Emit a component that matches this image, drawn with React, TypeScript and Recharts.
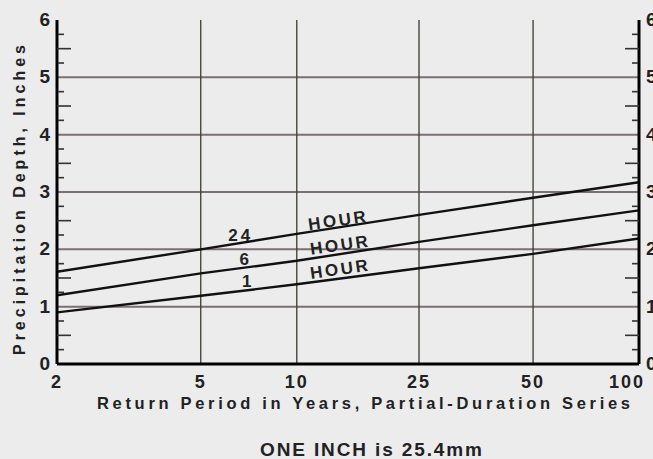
import React from 'react';
import { LineChart, Line, XAxis, YAxis, ReferenceLine, ReferenceDot, Customized } from 'recharts';

// Return periods (years) and depths (inches)
const returnPeriods = [2, 5, 10, 25, 50, 100];
const depth24Hour = [1.61, 2.0, 2.27, 2.6, 2.9, 3.17];
const depth6Hour = [1.2, 1.58, 1.8, 2.13, 2.42, 2.68];
const depth1Hour = [0.9, 1.19, 1.39, 1.67, 1.92, 2.19];

const xTicks = [2, 5, 10, 25, 50, 100];
const xGridValues = [5, 10, 25, 50];
const yTicks = [0, 1, 2, 3, 4, 5, 6];
const yGridValues = [1, 2, 3, 4, 5];
const halfTicks = [0.5, 1.5, 2.5, 3.5, 4.5, 5.5];
const quarterTicks = [0.25, 0.75, 1.25, 1.75, 2.25, 2.75, 3.25, 3.75, 4.25, 4.75, 5.25, 5.75];

// Curve annotations (anchored in data units)
const durationNames = ['24', '6', '1'];
const durationNameT = [6.67, 6.92, 7.05];
const durationNameDepth = [2.25, 1.83, 1.45];
const hourWordT = [13.5, 13.7, 13.7];
const hourWordDepth = [2.51, 2.08, 1.66];

// Probability-paper rulings of the return-period axis (hand-ruled, roughly logarithmic)
const paperRulingT = [2, 5, 10, 25, 50, 100];
const paperRulingFraction = [0, 0.247, 0.412, 0.622, 0.818, 1];

function paperFraction(v: number): number {
  const L = paperRulingT.map((t) => Math.log10(t));
  const F = paperRulingFraction;
  const lv = Math.log10(Math.max(v, 1e-9));
  let i = 1;
  while (i < L.length - 1 && lv > L[i]) i++;
  const k = (lv - L[i - 1]) / (L[i] - L[i - 1]);
  return F[i - 1] + k * (F[i] - F[i - 1]);
}

function createPaperScale(): any {
  let dom: number[] = [2, 100];
  let rng: number[] = [0, 1];
  const scale: any = (v: number) => {
    const f0 = paperFraction(Number(dom[0]));
    const f1 = paperFraction(Number(dom[dom.length - 1]));
    const f = (paperFraction(Number(v)) - f0) / (f1 - f0);
    return rng[0] + f * (rng[rng.length - 1] - rng[0]);
  };
  scale.domain = (d?: number[]) => {
    if (d === undefined) return dom.slice();
    dom = d.slice();
    return scale;
  };
  scale.range = (r?: number[]) => {
    if (r === undefined) return rng.slice();
    rng = r.slice();
    return scale;
  };
  scale.copy = () => createPaperScale().domain(dom).range(rng);
  scale.ticks = () => paperRulingT.slice();
  scale.tickFormat = () => (v: any) => String(v);
  return scale;
}

const data = returnPeriods.map((t, i) => ({
  t,
  h24: depth24Hour[i],
  h6: depth6Hour[i],
  h1: depth1Hour[i],
}));

const FONT = '"Liberation Sans", Arial, sans-serif';
const INK = '#222';

const XTick = (props: any) => {
  const { x, y, payload } = props;
  const dx = payload.value === 100 ? -12 : 0;
  return (
    <text x={x + dx} y={y + 15.5} textAnchor="middle" fontFamily={FONT} fontWeight="bold" fontSize={18} letterSpacing={2} fill={INK}>
      {payload.value}
    </text>
  );
};

const LeftTick = (props: any) => {
  const { x, y, payload } = props;
  return (
    <text x={x + 1} y={y + 6} textAnchor="end" fontFamily={FONT} fontWeight="bold" fontSize={19} fill={INK}>
      {payload.value}
    </text>
  );
};

const RightTick = (props: any) => {
  const { x, y, payload } = props;
  return (
    <text x={x - 1} y={y + 6} textAnchor="start" fontFamily={FONT} fontWeight="bold" fontSize={19} fill={INK}>
      {payload.value}
    </text>
  );
};

const NoLabel = () => <g />;

const makeWord = (word: string, rot: number, len?: number) => (props: any) => {
  const { cx, cy } = props;
  return (
    <text
      x={cx}
      y={cy}
      dy="0.36em"
      textAnchor="middle"
      fontFamily={FONT}
      fontWeight="bold"
      fontSize={17}
      letterSpacing={len ? 0 : 3}
      textLength={len}
      lengthAdjust={len ? 'spacing' : undefined}
      fill={INK}
      transform={`rotate(${rot}, ${cx}, ${cy})`}
    >
      {word}
    </text>
  );
};

const Titles = () => (
  <g>
    <text x={97} y={409} fontFamily={FONT} fontWeight="bold" fontSize={16.5} textLength={533} lengthAdjust="spacing" fill={INK}>
      Return Period in Years, Partial-Duration Series
    </text>
    <text x={260} y={456} fontFamily={FONT} fontWeight="bold" fontSize={19} textLength={222} lengthAdjust="spacing" fill={INK}>
      ONE INCH is 25.4mm
    </text>
    <text
      x={25}
      y={355}
      fontFamily={FONT}
      fontWeight="bold"
      fontSize={16}
      textLength={310}
      lengthAdjust="spacing"
      fill={INK}
      transform="rotate(-90, 25, 355)"
    >
      Precipitation Depth, Inches
    </text>
  </g>
);

const paperScale = createPaperScale();
const minorTickLine = { stroke: '#333', strokeWidth: 1.6 };

export default function App() {
  return (
    <div style={{ position: 'absolute', left: 0, top: 0, width: 653, height: 459, background: '#ececec' }}>
      <LineChart width={653} height={459} data={data} margin={{ top: 20, right: 0, bottom: 65, left: 0 }}>
        <XAxis
          dataKey="t"
          type="number"
          scale={paperScale}
          domain={[2, 100]}
          ticks={xTicks}
          interval={0}
          allowDataOverflow
          tickLine={false}
          axisLine={{ stroke: '#000', strokeWidth: 3 }}
          tick={<XTick />}
          height={30}
        />
        <XAxis
          xAxisId="top"
          orientation="top"
          type="number"
          scale={paperScale}
          domain={[2, 100]}
          ticks={xTicks}
          allowDataOverflow
          tick={false}
          tickLine={false}
          axisLine={{ stroke: '#000', strokeWidth: 2.5 }}
          height={0}
        />
        <YAxis
          type="number"
          domain={[0, 6]}
          ticks={yTicks}
          interval={0}
          allowDataOverflow
          width={57}
          tickLine={false}
          axisLine={{ stroke: '#000', strokeWidth: 3 }}
          tick={<LeftTick />}
        />
        <YAxis
          yAxisId="right"
          orientation="right"
          type="number"
          domain={[0, 6]}
          ticks={yTicks}
          interval={0}
          allowDataOverflow
          width={14}
          tickLine={false}
          axisLine={{ stroke: '#000', strokeWidth: 3 }}
          tick={<RightTick />}
        />
        <YAxis yAxisId="lh" mirror orientation="left" type="number" domain={[0, 6]} ticks={halfTicks} interval={0}
          allowDataOverflow width={1} tick={<NoLabel />} axisLine={false} tickSize={14} tickLine={minorTickLine} />
        <YAxis yAxisId="lq" mirror orientation="left" type="number" domain={[0, 6]} ticks={quarterTicks} interval={0}
          allowDataOverflow width={1} tick={<NoLabel />} axisLine={false} tickSize={6} tickLine={minorTickLine} />
        <YAxis yAxisId="rh" mirror orientation="right" type="number" domain={[0, 6]} ticks={halfTicks} interval={0}
          allowDataOverflow width={1} tick={<NoLabel />} axisLine={false} tickSize={14} tickLine={minorTickLine} />
        <YAxis yAxisId="rq" mirror orientation="right" type="number" domain={[0, 6]} ticks={quarterTicks} interval={0}
          allowDataOverflow width={1} tick={<NoLabel />} axisLine={false} tickSize={6} tickLine={minorTickLine} />

        {yGridValues.map((v) => (
          <ReferenceLine key={'y' + v} y={v} stroke="#7b6f76" strokeWidth={2} />
        ))}
        {xGridValues.map((v) => (
          <ReferenceLine key={'x' + v} x={v} stroke="#3a3a30" strokeWidth={1.3} />
        ))}

        <Line dataKey="h24" stroke="#111" strokeWidth={2.4} dot={false} isAnimationActive={false} />
        <Line dataKey="h6" stroke="#111" strokeWidth={2.4} dot={false} isAnimationActive={false} />
        <Line dataKey="h1" stroke="#111" strokeWidth={2.4} dot={false} isAnimationActive={false} />

        {durationNames.map((n, i) => (
          <ReferenceDot key={'n' + i} x={durationNameT[i]} y={durationNameDepth[i]} r={0} shape={makeWord(n, 0)} />
        ))}
        {durationNames.map((n, i) => (
          <ReferenceDot key={'h' + i} x={hourWordT[i]} y={hourWordDepth[i]} r={0} shape={makeWord('HOUR', -8, 58)} />
        ))}

        <Customized component={Titles} />
      </LineChart>
    </div>
  );
}
